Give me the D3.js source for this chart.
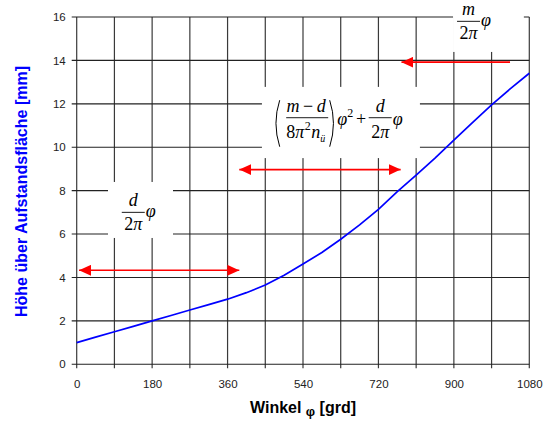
<!DOCTYPE html>
<html>
<head>
<meta charset="utf-8">
<script src="https://cdn.jsdelivr.net/npm/d3@7"></script>
<style>
  body { margin: 0; background: #fff; }
  svg { display: block; }
</style>
</head>
<body>
<div class="chart"></div>
<script>
// Winkel in grd, Höhe in mm
const angles  = [0, 45, 90, 135, 180, 225, 270, 315, 360, 405, 450, 495, 540, 585, 630, 675, 720, 765, 810, 855, 900, 945, 990, 1035, 1080];
const heights = [1.0, 1.25, 1.5, 1.75, 2.0, 2.25, 2.5, 2.75, 3.0, 3.3, 3.65, 4.1, 4.62, 5.15, 5.76, 6.42, 7.14, 7.95, 8.72, 9.5, 10.33, 11.15, 11.95, 12.7, 13.41];

const xTicks = [0, 180, 360, 540, 720, 900, 1080];
const xGrid = d3.range(0, 1081, 90);
const yTicks = [0, 2, 4, 6, 8, 10, 12, 14, 16];

// Pfeile (grd / mm)
const arrowFrom = [5.5, 388, 1034];
const arrowTo   = [388, 773, 775];
const arrowY    = [4.33, 8.97, 13.92];
const arrowBoth = [true, true, false];

// weisse Felder hinter den Formeln [x0, x1, y0, y1]
const boxes = [[74.7, 229.8, 8.4, 5.82], [442, 819, 12.78, 9.5], [898, 1067, 16.8, 14.39]];

const width = 548, height = 421;
const margin = {top: 17, right: 18.7, bottom: 56.7, left: 76.7};

const svg = d3.select('.chart')
    .append('svg')
    .attr('width', width)
    .attr('height', height);

const x = d3.scaleLinear().domain([0, 1080]).range([margin.left, width - margin.right]);
const y = d3.scaleLinear().domain([0, 16]).range([height - margin.bottom, margin.top]);

// Gitter
svg.append('g').selectAll('line')
    .data(xGrid)
    .enter()
    .append('line')
    .attr('x1', d => x(d)).attr('x2', d => x(d))
    .attr('y1', y(0) + 4).attr('y2', y(16))
    .attr('stroke', '#3a3a3a')
    .attr('stroke-width', 1.2);

svg.append('g').selectAll('line')
    .data(yTicks)
    .enter()
    .append('line')
    .attr('x1', x(0) - 5).attr('x2', x(1080))
    .attr('y1', d => y(d)).attr('y2', d => y(d))
    .attr('stroke', '#222')
    .attr('stroke-width', 1.1);

// Achsbeschriftung
const xAxis = svg.append('g')
    .attr('transform', `translate(0,${y(0)})`)
    .call(d3.axisBottom(x).tickValues(xTicks).tickFormat(d3.format('d')).tickSize(0).tickPadding(15.5));
xAxis.select('.domain').remove();
xAxis.selectAll('text')
    .attr('font-family', 'Liberation Sans, Arial, sans-serif')
    .attr('font-size', 11.5)
    .attr('fill', '#222');

const yAxis = svg.append('g')
    .attr('transform', `translate(${x(0)},0)`)
    .call(d3.axisLeft(y).tickValues(yTicks).tickSize(0).tickPadding(11));
yAxis.select('.domain').remove();
yAxis.selectAll('text')
    .attr('font-family', 'Liberation Sans, Arial, sans-serif')
    .attr('font-size', 11.5)
    .attr('fill', '#222');

// weisse Felder
svg.append('g').selectAll('rect')
    .data(boxes)
    .enter()
    .append('rect')
    .attr('x', d => x(d[0]))
    .attr('y', d => Math.max(0, y(d[2])))
    .attr('width', d => x(d[1]) - x(d[0]))
    .attr('height', d => y(d[3]) - Math.max(0, y(d[2])))
    .attr('fill', '#fff');

// Kurve
const line = d3.line()
    .x((d, i) => x(angles[i]))
    .y(d => y(d));

svg.append('path')
    .datum(heights)
    .attr('d', line)
    .attr('fill', 'none')
    .attr('stroke', '#0000FF')
    .attr('stroke-width', 1.7);

// Pfeile
const defs = svg.append('defs');
defs.append('marker')
    .attr('id', 'head')
    .attr('markerUnits', 'userSpaceOnUse')
    .attr('viewBox', '0 0 12 11')
    .attr('refX', 12).attr('refY', 5.5)
    .attr('markerWidth', 12).attr('markerHeight', 11)
    .attr('orient', 'auto-start-reverse')
    .append('path')
    .attr('d', 'M0,0 L12,5.5 L0,11 Z')
    .attr('fill', '#FF0000');

svg.append('g').selectAll('line')
    .data(arrowFrom)
    .enter()
    .append('line')
    .attr('x1', d => x(d))
    .attr('x2', (d, i) => x(arrowTo[i]))
    .attr('y1', (d, i) => y(arrowY[i]))
    .attr('y2', (d, i) => y(arrowY[i]))
    .attr('stroke', '#FF0000')
    .attr('stroke-width', 1.6)
    .attr('marker-end', 'url(#head)')
    .attr('marker-start', (d, i) => arrowBoth[i] ? 'url(#head)' : null);

// Formeln
const serif = 'Liberation Serif, Times New Roman, serif';
const fs = 18;

function frac(g, cx, num, den, denDy) {
    g.append('line')
        .attr('x1', cx - 11.5).attr('x2', cx + 11.5)
        .attr('y1', 0).attr('y2', 0)
        .attr('stroke', '#000').attr('stroke-width', 0.9);
    g.append('text').attr('x', cx).attr('y', -6)
        .attr('text-anchor', 'middle')
        .attr('font-family', serif).attr('font-style', 'italic').attr('font-size', fs)
        .text(num);
    const t = g.append('text').attr('x', cx).attr('y', denDy)
        .attr('text-anchor', 'middle')
        .attr('font-family', serif).attr('font-size', fs);
    t.append('tspan').text(den[0]);
    t.append('tspan').attr('font-style', 'italic').text(den[1]);
}

function phi(g, px, py) {
    return g.append('text').attr('x', px).attr('y', py)
        .attr('font-family', serif).attr('font-style', 'italic').attr('font-size', fs)
        .text('\u03C6');
}

// d/2pi phi
const f1 = svg.append('g').attr('transform', `translate(${x(135)},${y(7)})`);
frac(f1, 0, 'd', ['2', '\u03C0'], 17.5);
phi(f1, 12.5, 5);

// m/2pi phi
const f3 = svg.append('g').attr('transform', `translate(${x(935)},${y(15.8)})`);
frac(f3, 0, 'm', ['2', '\u03C0'], 18);
phi(f3, 12.5, 5);

// ((m-d)/(8pi^2 n_ü)) phi^2 + d/2pi phi
const f2 = svg.append('g').attr('transform', `translate(${x(550)},${y(11.36)})`);
f2.append('line')
    .attr('x1', -21).attr('x2', 21).attr('y1', 0).attr('y2', 0)
    .attr('stroke', '#000').attr('stroke-width', 0.9);
const num = f2.append('text').attr('x', -1).attr('y', -6)
    .attr('text-anchor', 'middle')
    .attr('font-family', serif).attr('font-size', fs);
num.append('tspan').attr('font-style', 'italic').text('m');
num.append('tspan').text('\u2009\u2212\u2009');
num.append('tspan').attr('font-style', 'italic').text('d');
const den = f2.append('text').attr('x', -21).attr('y', 20.5)
    .attr('font-family', serif).attr('font-size', fs);
den.append('tspan').text('8');
den.append('tspan').attr('font-style', 'italic').text('\u03C0');
den.append('tspan').attr('font-size', 12).attr('dx', 0.5).attr('dy', -8).text('2');
den.append('tspan').attr('font-style', 'italic').attr('dx', 0.5).attr('dy', 8).text('n');
den.append('tspan').attr('font-style', 'italic').attr('font-size', 10).attr('dy', 4).text('\u00FC');
f2.append('path')
    .attr('d', 'M-27.5,-17.5 Q-35,5.5 -27.5,29')
    .attr('fill', 'none').attr('stroke', '#000').attr('stroke-width', 1);
f2.append('path')
    .attr('d', 'M22.5,-17.5 Q30,5.5 22.5,29')
    .attr('fill', 'none').attr('stroke', '#000').attr('stroke-width', 1);
const p2 = phi(f2, 30, 7);
p2.append('tspan').attr('font-style', 'normal').attr('font-size', 12).attr('dy', -8).text('2');
f2.append('text').attr('x', 54).attr('y', 7)
    .attr('text-anchor', 'middle')
    .attr('font-family', serif).attr('font-size', fs)
    .text('+');
frac(f2, 73, 'd', ['2', '\u03C0'], 20);
phi(f2, 85.5, 7);

// Achsentitel
const xt = svg.append('text')
    .attr('x', (x(0) + x(1080)) / 2)
    .attr('y', 413)
    .attr('text-anchor', 'middle')
    .attr('font-family', 'Liberation Sans, Arial, sans-serif')
    .attr('font-weight', 'bold')
    .attr('font-size', 16)
    .attr('fill', '#000');
xt.append('tspan').text('Winkel ');
xt.append('tspan').attr('font-size', 13).attr('dy', 3).text('\u03C6');
xt.append('tspan').attr('dy', -3).text(' [grd]');

svg.append('text')
    .attr('transform', `translate(27,${(65 + 318) / 2}) rotate(-90)`)
    .attr('text-anchor', 'middle')
    .attr('font-family', 'Liberation Sans, Arial, sans-serif')
    .attr('font-weight', 'bold')
    .attr('font-size', 16)
    .attr('fill', '#0000FF')
    .text('Höhe über Aufstandsfläche [mm]');
</script>
</body>
</html>
